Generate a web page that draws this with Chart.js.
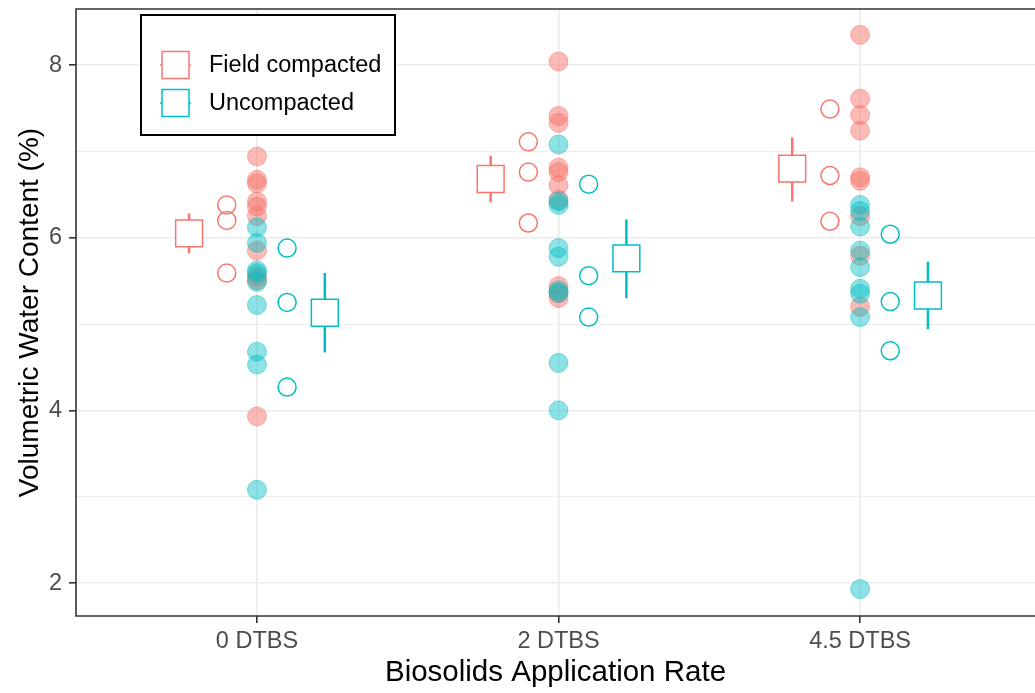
<!DOCTYPE html>
<html lang="en">

<head>
    <meta charset="UTF-8" />
    <title>Volumetric Water Content</title>
    <script src="https://cdn.jsdelivr.net/npm/chart.js"></script>
    <style>
        body { margin: 0; background: #fff; }
        #wrap { width: 1035px; height: 693px; }
    </style>
</head>

<body>
    <div id="wrap"><canvas id="chart" width="1035" height="693"></canvas></div>

    <script>
        // categories on the x axis
        const categories = ["0 DTBS", "2 DTBS", "4.5 DTBS"];

        // individual readings (filled dots), one list per category
        const fieldObs = [
            [6.94, 6.67, 6.63, 6.42, 6.36, 6.25, 5.85, 5.55, 5.51, 3.93],
            [8.04, 7.41, 7.33, 6.81, 6.76, 6.61, 6.44, 5.44, 5.36, 5.30],
            [8.35, 7.61, 7.42, 7.24, 6.70, 6.66, 6.25, 5.79, 5.20]
        ];
        const uncompObs = [
            [6.12, 5.94, 5.62, 5.59, 5.49, 5.22, 4.68, 4.53, 3.08],
            [7.08, 6.42, 6.38, 5.88, 5.78, 5.39, 5.36, 4.55, 4.00],
            [6.38, 6.31, 6.13, 5.85, 5.66, 5.41, 5.35, 5.08, 1.93]
        ];

        // block means (open circles)
        const fieldBlock = [[6.38, 6.20, 5.59], [7.11, 6.76, 6.17], [7.49, 6.72, 6.19]];
        const uncompBlock = [[5.88, 5.25, 4.27], [6.62, 5.56, 5.08], [6.04, 5.26, 4.69]];

        // treatment means with error bars (squares)
        const fieldMean = [6.05, 6.68, 6.80];
        const fieldLo = [5.82, 6.41, 6.42];
        const fieldHi = [6.28, 6.95, 7.16];
        const uncompMean = [5.13, 5.76, 5.33];
        const uncompLo = [4.67, 5.30, 4.94];
        const uncompHi = [5.59, 6.21, 5.72];

        const yTicks = [2, 3, 4, 5, 6, 7, 8];

        const RED = "#F8766D";
        const TEAL = "#00BFC4";
        const FONT = "'Liberation Sans', Arial, sans-serif";

        // dodge offsets for each layer
        const dodgeBlock = 0.1;
        const dodgeMean = 0.225;

        function dots(groups, dx) {
            const out = [];
            groups.forEach((vals, i) => vals.forEach(v => out.push({ x: i + dx, y: v })));
            return out;
        }

        function bars(lo, hi, dx) {
            const out = [];
            lo.forEach((v, i) => {
                out.push({ x: i + dx, y: v });
                out.push({ x: i + dx, y: hi[i] });
                out.push({ x: i + dx, y: null });
            });
            return out;
        }

        // keep the plot panel exactly where the layout puts it
        function noPad(scale) {
            scale.paddingTop = 0;
            scale.paddingBottom = 0;
            scale.paddingLeft = 0;
            scale.paddingRight = 0;
        }

        const panelBorder = {
            id: "panelBorder",
            afterDraw(chart) {
                const { ctx, chartArea: a } = chart;
                ctx.save();
                ctx.strokeStyle = "#333333";
                ctx.lineWidth = 1.6;
                ctx.beginPath();
                ctx.moveTo(a.right + 5, a.top);
                ctx.lineTo(a.left, a.top);
                ctx.lineTo(a.left, a.bottom);
                ctx.lineTo(a.right + 5, a.bottom);
                ctx.stroke();
                ctx.restore();
            }
        };

        const legendBox = {
            id: "legendBox",
            afterDraw(chart) {
                const ctx = chart.ctx;
                ctx.save();
                ctx.fillStyle = "#fff";
                ctx.fillRect(141, 15, 254, 120);
                ctx.strokeStyle = "#000";
                ctx.lineWidth = 2;
                ctx.strokeRect(141, 15, 254, 120);
                const items = [["Field compacted", RED, 65], ["Uncompacted", TEAL, 103]];
                items.forEach(([label, color, cy]) => {
                    ctx.strokeStyle = color;
                    ctx.lineWidth = 1.5;
                    ctx.beginPath();
                    ctx.moveTo(160, cy);
                    ctx.lineTo(191, cy);
                    ctx.stroke();
                    ctx.fillStyle = "#fff";
                    ctx.fillRect(162, cy - 13.5, 27, 27);
                    ctx.strokeRect(162, cy - 13.5, 27, 27);
                    ctx.fillStyle = "#000";
                    ctx.font = "23.5px " + FONT;
                    ctx.textBaseline = "middle";
                    ctx.fillText(label, 209, cy + 1);
                });
                ctx.restore();
            }
        };

        new Chart(document.getElementById("chart"), {
            type: "scatter",
            data: {
                datasets: [
                    {
                        type: "line", data: bars(fieldLo, fieldHi, -dodgeMean), borderColor: RED,
                        borderWidth: 2.5, pointRadius: 0, spanGaps: false, order: 6
                    },
                    {
                        type: "line", data: bars(uncompLo, uncompHi, dodgeMean), borderColor: TEAL,
                        borderWidth: 2.5, pointRadius: 0, spanGaps: false, order: 6
                    },
                    {
                        data: dots(fieldObs, 0), backgroundColor: "rgba(248,118,109,0.5)",
                        borderColor: "rgba(248,118,109,0.5)", borderWidth: 1, pointRadius: 9.5, order: 5
                    },
                    {
                        data: dots(uncompObs, 0), backgroundColor: "rgba(0,191,196,0.45)",
                        borderColor: "rgba(0,191,196,0.45)", borderWidth: 1, pointRadius: 9.5, order: 4
                    },
                    {
                        data: dots(fieldBlock, -dodgeBlock), backgroundColor: "rgba(0,0,0,0)",
                        borderColor: RED, borderWidth: 1.5, pointRadius: 9, order: 3
                    },
                    {
                        data: dots(uncompBlock, dodgeBlock), backgroundColor: "rgba(0,0,0,0)",
                        borderColor: TEAL, borderWidth: 1.5, pointRadius: 9, order: 3
                    },
                    {
                        data: fieldMean.map((v, i) => ({ x: i - dodgeMean, y: v })), pointStyle: "rect",
                        backgroundColor: "#fff", borderColor: RED, borderWidth: 1.5, pointRadius: 19, order: 1
                    },
                    {
                        data: uncompMean.map((v, i) => ({ x: i + dodgeMean, y: v })), pointStyle: "rect",
                        backgroundColor: "#fff", borderColor: TEAL, borderWidth: 1.5, pointRadius: 19, order: 1
                    }
                ]
            },
            options: {
                responsive: false,
                animation: false,
                events: [],
                layout: { autoPadding: false, padding: { top: 9, right: 0, left: 0, bottom: 0 } },
                plugins: { legend: { display: false }, tooltip: { enabled: false } },
                scales: {
                    x: {
                        type: "linear",
                        min: -0.6,
                        max: 2.58,
                        afterBuildTicks: scale => { scale.ticks = categories.map((c, i) => ({ value: i })); },
                        afterFit: scale => { scale.height = 77; noPad(scale); },
                        border: { display: false },
                        grid: { color: "#ebebeb", lineWidth: 1.6, tickColor: "#333333", tickLength: 7, tickWidth: 1.6 },
                        ticks: {
                            padding: 4,
                            color: "#4d4d4d",
                            font: { family: FONT, size: 23.5 },
                            callback: v => categories[v]
                        },
                        title: {
                            display: true,
                            text: "Biosolids Application Rate",
                            color: "#000",
                            font: { family: FONT, size: 29.5 },
                            padding: { top: 0, bottom: 2 }
                        }
                    },
                    y: {
                        min: 1.618,
                        max: 8.649,
                        afterBuildTicks: scale => { scale.ticks = yTicks.map(v => ({ value: v })); },
                        afterFit: scale => { scale.width = 76; noPad(scale); },
                        border: { display: false },
                        grid: {
                            color: "#ebebeb",
                            lineWidth: c => (c.tick && c.tick.value % 2 === 0 ? 1.6 : 0.9),
                            tickColor: c => (c.tick && c.tick.value % 2 === 0 ? "#333333" : "rgba(0,0,0,0)"),
                            tickLength: 7,
                            tickWidth: 1.6
                        },
                        ticks: {
                            padding: 7,
                            color: "#4d4d4d",
                            font: { family: FONT, size: 23.5 },
                            callback: v => (v % 2 === 0 ? String(v) : "")
                        },
                        title: {
                            display: true,
                            text: "Volumetric Water Content (%)",
                            color: "#000",
                            font: { family: FONT, size: 28 },
                            padding: { top: 13, bottom: 0 }
                        }
                    }
                }
            },
            plugins: [panelBorder, legendBox]
        });
    </script>
</body>

</html>
